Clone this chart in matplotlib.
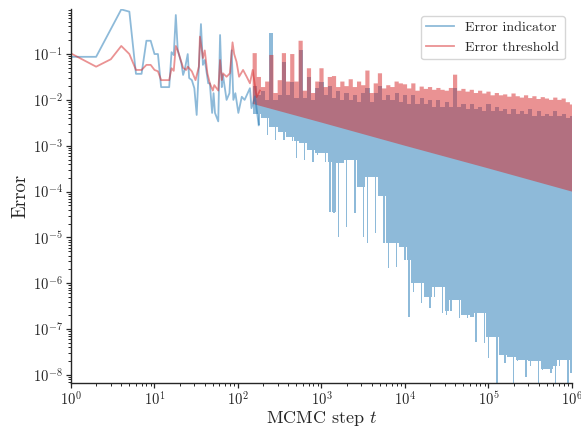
import numpy as np
import matplotlib
matplotlib.use("Agg")
import matplotlib.pyplot as plt
from matplotlib.ticker import LogLocator, NullFormatter

plt.rcParams['font.family'] = 'serif'
plt.rcParams['font.serif'] = ['cmr10']
plt.rcParams['mathtext.fontset'] = 'cm'
plt.rcParams['axes.formatter.use_mathtext'] = True

# early steps
blue_t = [1, 2, 4, 5, 6, 7, 8, 9, 10, 11, 12, 15, 16, 17, 18, 19, 21, 22, 23, 25,
          26, 28, 30, 32, 34, 36, 38, 40, 44, 46, 49, 51, 53, 58, 61, 64, 66, 73,
          79, 84, 88, 93, 101, 111, 120, 139, 145, 160, 177]
blue_val = [0.087, 0.087, 0.94, 0.84, 0.037, 0.037, 0.195, 0.195, 0.10, 0.10,
            0.019, 0.019, 0.11, 0.095, 0.71, 0.12, 0.063, 0.035, 0.045, 0.10,
            0.03, 0.027, 0.018, 0.0047, 0.053, 0.45, 0.058, 0.074, 0.023, 0.023,
            0.0052, 0.014, 0.0052, 0.0034, 0.26, 0.019, 0.035, 0.01, 0.014, 0.12,
            0.01, 0.014, 0.0052, 0.0117, 0.01, 0.018, 0.0066, 0.012, 0.0028]

red_t = [1, 2, 3, 4, 5, 6, 7, 8, 9, 10, 11, 12, 15, 16, 17, 18, 19, 21, 22, 24,
         25, 28, 31, 34, 35, 38, 40, 43, 46, 50, 52, 58, 61, 64, 66, 73, 80, 86,
         90, 96, 103, 115, 127, 139, 150, 167, 183]
red_val = [0.103, 0.053, 0.077, 0.15, 0.10, 0.045, 0.045, 0.058, 0.058, 0.045,
           0.042, 0.027, 0.027, 0.049, 0.043, 0.15, 0.12, 0.066, 0.05, 0.045,
           0.053, 0.042, 0.027, 0.053, 0.24, 0.082, 0.12, 0.038, 0.023, 0.016,
           0.021, 0.016, 0.074, 0.027, 0.038, 0.032, 0.038, 0.18, 0.10, 0.068,
           0.032, 0.045, 0.032, 0.023, 0.045, 0.0115, 0.016]

# later steps are too dense to see single points: envelopes (log10 of error)
# read on a grid of steps from 10^2.2 to 10^6
t_grid = np.logspace(2.2, 6.0, 77)
red_top_exp = [
    -0.98, -1.50, -1.72, -1.60, -1.02, -1.85, -1.57, -0.98, -1.60, -1.00,
    -1.60, -0.71, -1.80, -1.31, -1.85, -1.60, -1.31, -1.72, -1.50, -1.48,
    -1.72, -1.60, -1.70, -1.55, -1.72, -1.60, -1.68, -1.36, -1.85, -1.64,
    -1.42, -1.75, -1.68, -1.72, -1.60, -1.64, -1.66, -1.75, -1.64, -1.80,
    -1.71, -1.76, -1.72, -1.78, -1.74, -1.78, -1.80, -1.74, -1.45, -1.80,
    -1.76, -1.82, -1.78, -1.85, -1.80, -1.86, -1.82, -1.90, -1.85, -1.90,
    -1.88, -1.93, -1.86, -1.92, -1.95, -1.90, -1.96, -1.92, -1.98, -1.94,
    -1.97, -2.00, -1.95, -2.00, -1.97, -2.05, -2.10]
blue_top_exp = [
    -1.70, -1.90, -1.80, -2.00, -0.54, -2.00, -1.90, -1.17, -1.90, -1.60,
    -1.95, -0.91, -1.95, -1.50, -2.00, -1.75, -1.60, -1.90, -1.70, -1.95,
    -1.80, -2.00, -1.85, -2.00, -1.90, -2.05, -1.85, -1.75, -2.05, -1.85,
    -1.70, -2.00, -1.90, -2.00, -1.85, -2.05, -1.90, -2.10, -1.90, -2.10,
    -1.95, -2.10, -2.00, -2.15, -2.00, -2.15, -2.05, -2.15, -1.75, -2.15,
    -2.10, -2.20, -2.10, -2.20, -2.15, -2.25, -2.10, -2.25, -2.15, -2.25,
    -2.20, -2.30, -2.20, -2.30, -2.25, -2.30, -2.20, -2.35, -2.25, -2.35,
    -2.30, -2.35, -2.25, -2.35, -2.30, -2.40, -2.35]
blue_low_exp = [
    -2.30, -2.55, -2.40, -2.76, -2.60, -2.87, -2.70, -2.87, -2.80, -2.90,
    -3.27, -2.94, -3.31, -3.09, -3.35, -3.20, -3.16, -3.35, -4.44, -4.47,
    -4.99, -3.37, -4.77, -3.31, -4.47, -3.90, -4.99, -5.12, -3.68, -4.90,
    -4.10, -5.12, -5.66, -5.12, -5.64, -5.20, -5.49, -6.73, -6.20, -6.00,
    -6.43, -6.30, -6.53, -6.29, -6.08, -6.65, -6.70, -6.60, -6.36, -6.75,
    -6.70, -6.75, -6.73, -7.27, -6.64, -7.30, -7.62, -7.17, -8.20, -7.56,
    -7.73, -7.60, -8.20, -7.70, -7.67, -8.04, -7.80, -7.70, -8.20, -7.90,
    -7.88, -7.95, -8.20, -7.80, -7.67, -8.20, -7.95]
# lower edge of the threshold band is a straight line on log-log axes
red_floor_t = [150, 1e3, 1e4, 1e5, 1e6]
red_floor_val = [8.2e-3, 3.2e-3, 1.0e-3, 3.2e-4, 1.0e-4]

blue = '#1f77b4'
red = '#d62728'


def step_edge(t, v_exp):
    # stair outline, cell borders halfway between grid steps (in log space)
    lt = np.log10(t)
    h = (lt[1] - lt[0]) / 2
    edges = np.concatenate([[lt[0] - h], (lt[:-1] + lt[1:]) / 2, [lt[-1] + h]])
    return 10.0 ** np.repeat(edges, 2)[1:-1], 10.0 ** np.repeat(v_exp, 2)


def spiky_edge(t, v_exp):
    # lower edge: body at the shallowest level of the neighbours,
    # a thin spike in the middle of each cell down to the value read
    v = np.asarray(v_exp, dtype=float)
    pad = np.concatenate([[v[0]], v, [v[-1]]])
    body = np.vstack([pad[:-2], pad[1:-1], pad[2:]]).max(axis=0)
    lt = np.log10(t)
    h = (lt[1] - lt[0]) / 2
    xs, ys = [], []
    for c, b, s in zip(lt, body, v):
        xs += [c - h, c - h / 3, c - h / 3, c + h / 3, c + h / 3, c + h]
        ys += [b, b, s, s, b, b]
    return 10.0 ** np.array(xs), 10.0 ** np.array(ys)


fig = plt.figure(figsize=(5.81, 4.29), dpi=100)
ax = fig.add_axes([0.1222, 0.108, 0.8623, 0.871])

# Error indicator
ax.plot(blue_t, blue_val, color=blue, alpha=0.5, lw=1.3, label='Error indicator')
xt, yt = step_edge(t_grid, blue_top_exp)
xl, yl = spiky_edge(t_grid, blue_low_exp)
ax.fill(np.concatenate([xt, xl[::-1]]), np.concatenate([yt, yl[::-1]]),
        color=blue, alpha=0.5, lw=0)

# Error threshold
ax.plot(red_t, red_val, color=red, alpha=0.5, lw=1.3, label='Error threshold')
xt, yt = step_edge(t_grid, red_top_exp)
ax.fill(np.concatenate([xt, red_floor_t[::-1]]),
        np.concatenate([yt, red_floor_val[::-1]]),
        color=red, alpha=0.5, lw=0)

ax.set_xscale('log')
ax.set_yscale('log')
ax.set_xlim(1, 1e6)
ax.set_ylim(6.8e-9, 0.96)
ax.xaxis.set_major_locator(LogLocator(base=10, numticks=20))
ax.yaxis.set_major_locator(LogLocator(base=10, numticks=20))
ax.xaxis.set_minor_locator(LogLocator(base=10, subs=np.arange(2, 10), numticks=20))
ax.yaxis.set_minor_locator(LogLocator(base=10, subs=np.arange(2, 10), numticks=20))
ax.xaxis.set_minor_formatter(NullFormatter())
ax.yaxis.set_minor_formatter(NullFormatter())

for s in ['top', 'right']:
    ax.spines[s].set_visible(False)
for s in ['left', 'bottom']:
    ax.spines[s].set_color('0.15')
    ax.spines[s].set_linewidth(1.0)
ax.tick_params(which='major', length=3.5, width=0.9, colors='0.15',
               labelsize=10.5, pad=2.5)
ax.tick_params(which='minor', length=2.0, width=0.7, colors='0.15')

ax.set_xlabel('MCMC step $t$', fontsize=13, color='0.15', labelpad=0)
ax.set_ylabel('Error', fontsize=13.5, color='0.15', labelpad=2)

leg = ax.legend(loc='upper right', fontsize=10, frameon=True, fancybox=True,
                edgecolor='0.8', borderaxespad=0.5)
for txt in leg.get_texts():
    txt.set_color('0.15')

fig.savefig('out.png', dpi=100)
